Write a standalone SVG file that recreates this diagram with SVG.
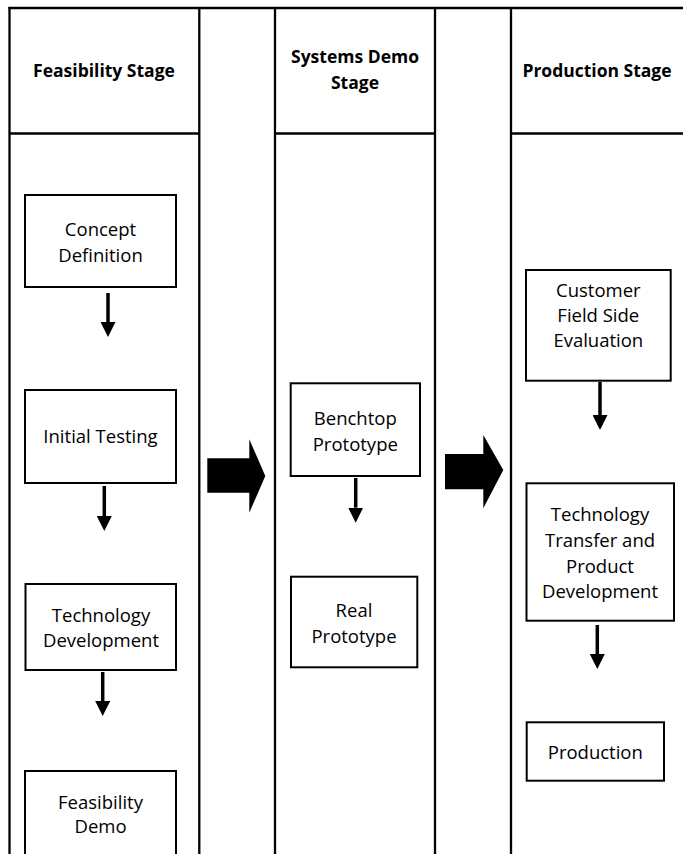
<svg xmlns="http://www.w3.org/2000/svg" width="683" height="854" viewBox="0 0 683 854">
<style>
.grid{stroke:#000;stroke-width:2.3;fill:none}
.box{fill:#fff;stroke:#000;stroke-width:2}
.t{font-family:"Open Sans","Liberation Sans",sans-serif;font-size:18.5px;fill:#000;text-anchor:middle}
.h{font-family:"Open Sans","Liberation Sans",sans-serif;font-size:17.5px;font-weight:bold;fill:#000;text-anchor:middle}
.conn{stroke:#000;stroke-width:3.5;fill:none;marker-end:url(#ah)}
.big{fill:#000;stroke:none}
</style>
<defs>
<marker id="ah" viewBox="0 0 15 15" markerWidth="15" markerHeight="15" markerUnits="userSpaceOnUse" refX="0" refY="7.5" orient="auto">
<path d="M0,0 L15,7.5 L0,15 Z" fill="#000"/>
</marker>
</defs>
<rect width="683" height="854" fill="#fff"/>
<g id="table">
<line class="grid" x1="8.5" y1="8" x2="683" y2="8"/>
<line class="grid" x1="9.5" y1="7" x2="9.5" y2="854"/>
<line class="grid" x1="199.3" y1="7" x2="199.3" y2="854"/>
<line class="grid" x1="275" y1="7" x2="275" y2="854"/>
<line class="grid" x1="435" y1="7" x2="435" y2="854"/>
<line class="grid" x1="511" y1="7" x2="511" y2="854"/>
<line class="grid" x1="9.5" y1="133.5" x2="199.3" y2="133.5"/>
<line class="grid" x1="275" y1="133.5" x2="435" y2="133.5"/>
<line class="grid" x1="511" y1="133.5" x2="683" y2="133.5"/>
<text class="h" x="104" y="77.3">Feasibility Stage</text>
<text class="h" x="355" y="63.3">Systems Demo</text>
<text class="h" x="355" y="89.3">Stage</text>
<text class="h" x="597" y="77.3">Production Stage</text>
</g>
<g id="concept"><rect class="box" x="25" y="195" width="151" height="92"/><text class="t" x="100.5" y="236">Concept</text><text class="t" x="100.5" y="261.5">Definition</text></g>
<g id="initial"><rect class="box" x="25" y="390" width="151" height="93"/><text class="t" x="100.5" y="443">Initial Testing</text></g>
<g id="techdev"><rect class="box" x="25.5" y="584" width="150.5" height="86"/><text class="t" x="101" y="621.5">Technology</text><text class="t" x="101" y="647">Development</text></g>
<g id="feasdemo"><rect class="box" x="25" y="771" width="151" height="100"/><text class="t" x="100.5" y="809">Feasibility</text><text class="t" x="100.5" y="833">Demo</text></g>
<g id="benchtop"><rect class="box" x="290.7" y="383.3" width="129.3" height="92.7"/><text class="t" x="355.3" y="425">Benchtop</text><text class="t" x="355.3" y="450.7">Prototype</text></g>
<g id="real"><rect class="box" x="291" y="576.7" width="126.3" height="90.6"/><text class="t" x="354" y="617.3">Real</text><text class="t" x="354" y="643.3">Prototype</text></g>
<g id="customer"><rect class="box" x="526" y="270" width="144.7" height="110.7"/><text class="t" x="598.3" y="296.7">Customer</text><text class="t" x="598.3" y="322">Field Side</text><text class="t" x="598.3" y="347.3">Evaluation</text></g>
<g id="techtransfer"><rect class="box" x="526.5" y="483.3" width="147.5" height="137.4"/><text class="t" x="600" y="520.7">Technology</text><text class="t" x="600" y="546.7">Transfer and</text><text class="t" x="600" y="572.7">Product</text><text class="t" x="600" y="598.3">Development</text></g>
<g id="production"><rect class="box" x="526.7" y="722.3" width="137.3" height="58.4"/><text class="t" x="595.3" y="759">Production</text></g>
<g id="connectors">
<line class="conn" x1="108" y1="293" x2="108" y2="322"/>
<line class="conn" x1="104.3" y1="486" x2="104.3" y2="516"/>
<line class="conn" x1="102.7" y1="672" x2="102.7" y2="701"/>
<line class="conn" x1="355.7" y1="478" x2="355.7" y2="507.7"/>
<line class="conn" x1="600" y1="382" x2="600" y2="415"/>
<line class="conn" x1="597.3" y1="625" x2="597.3" y2="654"/>
<polygon class="big" points="207.3,458.3 249.3,458.3 249.3,439.3 265.3,476 249.3,512.7 249.3,492.7 207.3,492.7"/>
<polygon class="big" points="445,454 483.3,454 483.3,435 503.3,470 483.3,508.3 483.3,489.3 445,489.3"/>
</g>
</svg>
